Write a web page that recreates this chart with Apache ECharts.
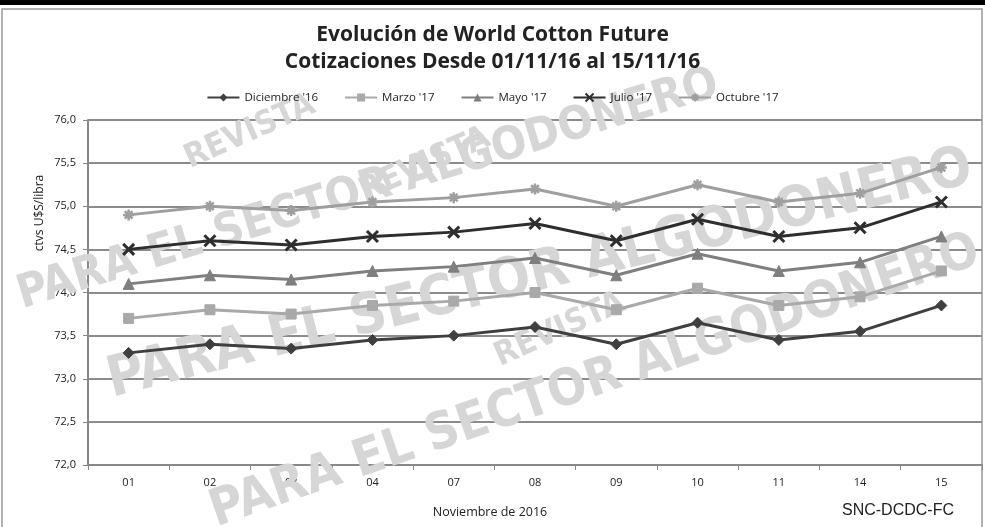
<!DOCTYPE html>
<html><head><meta charset="utf-8">
<script src="https://cdn.jsdelivr.net/npm/echarts@6/dist/echarts.min.js"></script>
<style>html,body{margin:0;padding:0;background:#fff}#c{width:985px;height:527px}</style>
</head><body><div id="c"></div>
<script>
const categories = ['01','02','03','04','07','08','09','10','11','14','15'];
const diciembre16 = [73.30,73.40,73.35,73.45,73.50,73.60,73.40,73.65,73.45,73.55,73.85];
const marzo17     = [73.70,73.80,73.75,73.85,73.90,74.00,73.80,74.05,73.85,73.95,74.25];
const mayo17      = [74.10,74.20,74.15,74.25,74.30,74.40,74.20,74.45,74.25,74.35,74.65];
const julio17     = [74.50,74.60,74.55,74.65,74.70,74.80,74.60,74.85,74.65,74.75,75.05];
const octubre17   = [74.90,75.00,74.95,75.05,75.10,75.20,75.00,75.25,75.05,75.15,75.45];
const seriesNames = ["Diciembre '16","Marzo '17","Mayo '17","Julio '17","Octubre '17"];
const yTicks = {min:72, max:76, interval:0.5};

const FONT = '"Open Sans", "Liberation Sans", sans-serif';
const asterisk = 'path://M5,0 L5,10 M0,5 L10,5 M1.5,1.5 L8.5,8.5 M8.5,1.5 L1.5,8.5';
const cross = 'path://M0,0 L10,10 M10,0 L0,10';
function mk(name, data, color, symbol, size, extra){
  return Object.assign({
    name, type:'line', data, symbol, symbolSize:size,
    lineStyle:{color, width:3}, itemStyle:{color, borderColor:color}, z:5
  }, extra||{});
}
const series = [
  mk(seriesNames[0], diciembre16, '#3f3f3f', 'diamond', 11),
  mk(seriesNames[1], marzo17, '#a9a9a9', 'rect', 10),
  mk(seriesNames[2], mayo17, '#7f7f7f', 'triangle', 11),
  mk(seriesNames[3], julio17, '#2e2e2e', cross, 11, {itemStyle:{color:'none', borderColor:'#2e2e2e', borderWidth:3}}),
  mk(seriesNames[4], octubre17, '#9f9f9f', asterisk, 11, {itemStyle:{color:'none', borderColor:'#9f9f9f', borderWidth:2.5}})
];

function wm(x, y, text, rot, size){
  return {type:'text', x, y, rotation: rot*Math.PI/180, z:1, silent:true,
    style:{text, fill:'#d6d6d6', font:'bold '+size+'px "DejaVu Sans Condensed", "DejaVu Sans", sans-serif', align:'center', verticalAlign:'middle'}};
}

const chart = echarts.init(document.getElementById('c'));
chart.setOption({
  animation:false,
  title:{
    text:'Evolución de World Cotton Future\nCotizaciones Desde 01/11/16 al 15/11/16',
    left:'center', top:17,
    textStyle:{fontFamily:FONT, fontSize:21, fontWeight:'bold', color:'#222', lineHeight:27}
  },
  legend:{
    top:86, left:'center', itemWidth:32, itemHeight:10, itemGap:26,
    textStyle:{fontFamily:FONT, fontSize:11.5, color:'#222'},
    data: seriesNames
  },
  grid:{left:88, right:3, top:120, bottom:62},
  xAxis:{
    type:'category', data:categories, boundaryGap:true,
    axisLine:{lineStyle:{color:'#888', width:2}},
    axisTick:{show:true, length:5, lineStyle:{color:'#888'}},
    axisLabel:{fontFamily:FONT, fontSize:11, color:'#222', margin:12}
  },
  yAxis:{
    type:'value', min:yTicks.min, max:yTicks.max, interval:yTicks.interval,
    axisLine:{show:true, lineStyle:{color:'#888', width:2}},
    axisTick:{show:true, length:5, lineStyle:{color:'#888'}},
    splitLine:{lineStyle:{color:'#8c8c8c', width:2}},
    axisLabel:{fontFamily:FONT, fontSize:11, color:'#222', margin:12,
      formatter:v=>v.toFixed(1).replace('.',',')}
  },
  graphic:[
    {type:'rect', shape:{x:0,y:0,width:985,height:5}, style:{fill:'#000'}, silent:true},
    {type:'rect', shape:{x:2,y:9,width:980,height:530}, style:{fill:'none', stroke:'#999', lineWidth:1.5}, silent:true, z:0},
    wm(250,132,'REVISTA',24,33),
    wm(368,190,'PARA EL SECTOR ALGODONERO',17,46),
    wm(425,165,'REVISTA',24,33),
    wm(540,275,'PARA EL SECTOR ALGODONERO',14,56),
    wm(560,330,'REVISTA',24,33),
    wm(595,382,'PARA EL SECTOR ALGODONERO',19,51),
    {type:'text', x:40, y:213, rotation:Math.PI/2, z:10,
      style:{text:'ctvs U$S/libra', fill:'#222', font:'12px '+FONT, align:'center', verticalAlign:'middle'}},
    {type:'text', x:490, y:512, z:10,
      style:{text:'Noviembre de 2016', fill:'#222', font:'12.5px '+FONT, align:'center', verticalAlign:'middle'}},
    {type:'text', x:898, y:511, z:10,
      style:{text:'SNC-DCDC-FC', fill:'#222', font:'16px "Liberation Sans", sans-serif', align:'center', verticalAlign:'middle'}}
  ],
  series
});
</script></body></html>
